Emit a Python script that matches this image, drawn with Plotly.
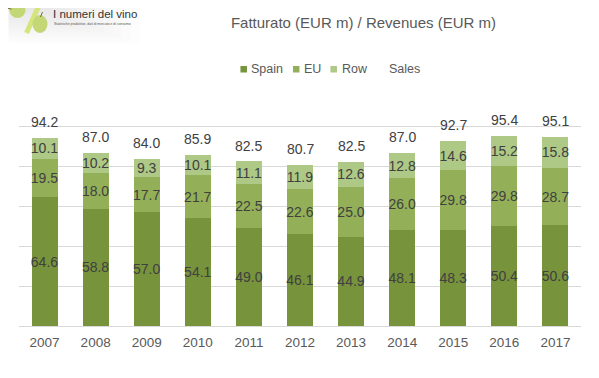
import plotly.graph_objects as go

years = ["2007", "2008", "2009", "2010", "2011", "2012", "2013", "2014", "2015", "2016", "2017"]
spain = [64.6, 58.8, 57.0, 54.1, 49.0, 46.1, 44.9, 48.1, 48.3, 50.4, 50.6]
eu = [19.5, 18.0, 17.7, 21.7, 22.5, 22.6, 25.0, 26.0, 29.8, 29.8, 28.7]
row = [10.1, 10.2, 9.3, 10.1, 11.1, 11.9, 12.6, 12.8, 14.6, 15.2, 15.8]
sales = [94.2, 87.0, 84.0, 85.9, 82.5, 80.7, 82.5, 87.0, 92.7, 95.4, 95.1]

series_names = ["Spain", "EU", "Row"]
series_colors = ["#77933C", "#93B058", "#AEC886"]

FONT = "Liberation Sans, Arial, sans-serif"
LABEL_COLOR = "#404040"
GRAY = "#595959"

# page body has an 8px margin: figure is drawn 8px right/down of window origin
OFF = 8
W, H = 599 - OFF, 378 - OFF
L, R, T, B = 18.5 - OFF, 18.4, 87 - OFF, 52


def px(x):
    """window pixel x -> paper coordinate"""
    return (x - OFF - L) / (W - L - R)


def py(y):
    """window pixel y -> paper coordinate"""
    return (H - B - (y - OFF)) / (H - T - B)


fig = go.Figure()
for name, vals, color in zip(series_names, [spain, eu, row], series_colors):
    fig.add_trace(go.Bar(
        x=years, y=vals, name=name, marker=dict(color=color, line=dict(width=0)),
        text=[f"{v:.1f}" for v in vals], textposition="inside", insidetextanchor="middle",
        textangle=0, constraintext="none", cliponaxis=False,
        insidetextfont=dict(family=FONT, size=14, color=LABEL_COLOR),
        hoverinfo="x+y+name", showlegend=False,
    ))

fig.add_trace(go.Scatter(
    x=years, y=sales, name="Sales", mode="lines",
    line=dict(color="rgba(0,0,0,0)", width=2), hoverinfo="x+y+name", showlegend=False,
))

annotations = [
    dict(x=i, y=v, xref="x", yref="y", text=f"{v:.1f}", showarrow=False,
         yshift=16, yanchor="middle", font=dict(family=FONT, size=14, color=LABEL_COLOR))
    for i, v in enumerate(sales)
]

shapes = []

# legend (drawn manually to match compact Excel style)
legend_items = [("Spain", 240, 249), ("EU", 292.5, 302), ("Row", 330, 340), ("Sales", None, 387)]
color_map = dict(zip(series_names, series_colors))
for name, sq_x, tx in legend_items:
    if sq_x is not None:
        shapes.append(dict(type="rect", xref="paper", yref="paper",
                           x0=px(sq_x), x1=px(sq_x + 6.5), y0=py(72.5), y1=py(66),
                           fillcolor=color_map[name], line=dict(width=0)))
    annotations.append(dict(x=px(tx), y=py(69.5), xref="paper", yref="paper", text=name,
                            showarrow=False, xanchor="left", yanchor="middle",
                            font=dict(family=FONT, size=12.5, color=GRAY)))

# logo text
annotations += [
    dict(x=px(51), y=py(14), xref="paper", yref="paper", text="I numeri del vino", showarrow=False,
         xanchor="left", yanchor="middle", font=dict(family=FONT, size=11.5, color="#333333")),
    dict(x=px(52), y=py(24), xref="paper", yref="paper",
         text="Statistiche produttive, dati di mercato e di consumo",
         showarrow=False, xanchor="left", yanchor="middle", font=dict(family=FONT, size=3.4, color="#555555")),
]

# faint gradient behind the logo
for i in range(12):
    shapes.append(dict(type="rect", xref="paper", yref="paper",
                       x0=px(OFF), x1=px(140 - i * 9), y0=py(44 - i * 3), y1=py(OFF),
                       fillcolor="rgba(0,0,0,0.009)", line=dict(width=0), layer="below"))
# grapes and slash
shapes += [
    dict(type="line", xref="paper", yref="paper", x0=px(40), y0=py(2), x1=px(26), y1=py(33),
         line=dict(color="#d6e47c", width=5)),
    dict(type="circle", xref="paper", yref="paper", x0=px(9), x1=px(25), y0=py(18), y1=py(3),
         fillcolor="#c3d777", line=dict(width=0)),
    dict(type="circle", xref="paper", yref="paper", x0=px(32), x1=px(47), y0=py(33), y1=py(15),
         fillcolor="#c3d777", line=dict(width=0)),
    dict(type="line", xref="paper", yref="paper", x0=px(4), y0=py(8), x1=px(11), y1=py(9),
         line=dict(color="#7a6a3a", width=1)),
    dict(type="line", xref="paper", yref="paper", x0=px(42), y0=py(12), x1=px(40), y1=py(17),
         line=dict(color="#7a6a3a", width=1)),
]

fig.update_layout(
    width=W, height=H,
    margin=dict(l=L, r=R, t=T, b=B, pad=0),
    paper_bgcolor="white", plot_bgcolor="white",
    barmode="stack", bargap=0.49,
    title=dict(text="Fatturato (EUR m) / Revenues (EUR m)", xref="paper", x=px(363), xanchor="center",
               y=1 - (23 - OFF) / H, yanchor="middle", font=dict(family=FONT, size=15, color=GRAY)),
    xaxis=dict(type="category", range=[-0.5, len(years) - 0.5], showgrid=False, showline=False,
               ticks="", ticklabelstandoff=6, tickfont=dict(family=FONT, size=13.5, color=GRAY)),
    yaxis=dict(range=[0, 120], dtick=20, showgrid=True, gridcolor="#d9d9d9", gridwidth=1,
               zeroline=True, zerolinecolor="#d9d9d9", zerolinewidth=1,
               showticklabels=False, ticks=""),
    annotations=annotations, shapes=shapes,
    showlegend=False,
)

fig.write_html("out.html")
